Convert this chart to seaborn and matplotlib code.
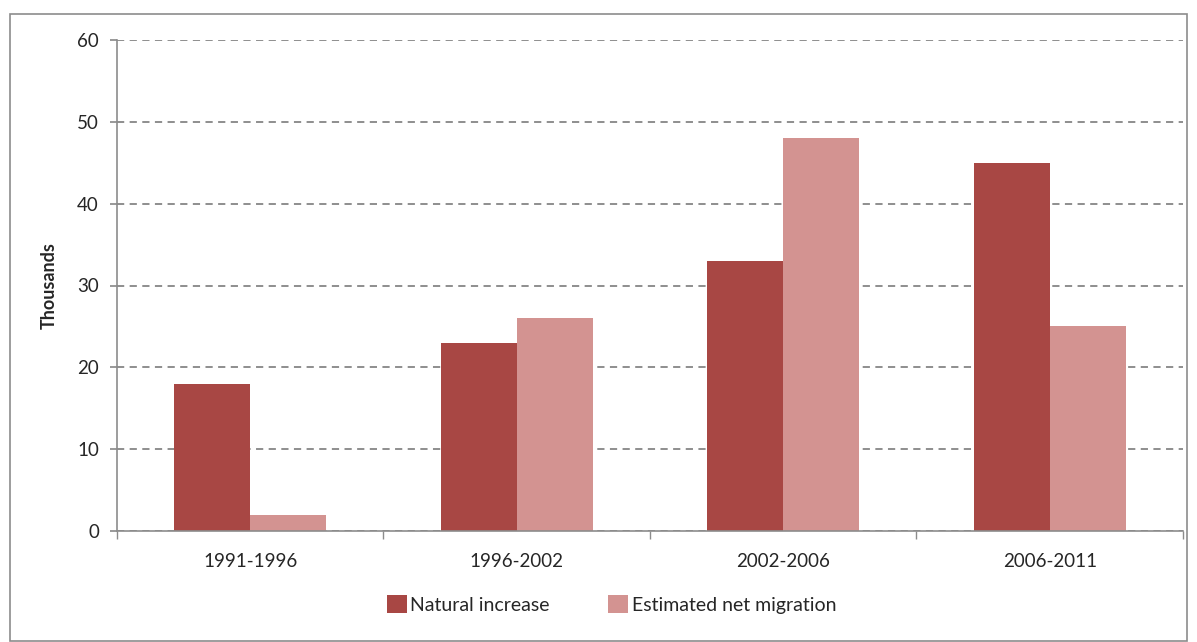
import pandas as pd
import seaborn as sns
import matplotlib.pyplot as plt
from matplotlib.patches import Rectangle

sns.set_theme(style="white")
plt.rcParams['font.family'] = ['Lato', 'DejaVu Sans']

# Data (thousands)
periods = ["1991-1996", "1996-2002", "2002-2006", "2006-2011"]
natural_increase = [18, 23, 33, 45]
net_migration = [2, 26, 48, 25]
series_names = ["Natural increase", "Estimated net migration"]
colors = ["#A84744", "#D39391"]
y_ticks = [0, 10, 20, 30, 40, 50, 60]

df = pd.DataFrame({
    "Period": periods * 2,
    "Series": [series_names[0]] * 4 + [series_names[1]] * 4,
    "Value": natural_increase + net_migration,
})

fig = plt.figure(figsize=(11.97, 6.42), dpi=100)
ax = fig.add_axes([117 / 1197, 1 - 531 / 642, (1183 - 117) / 1197, (531 - 40) / 642])

sns.barplot(data=df, x="Period", y="Value", hue="Series", palette=colors,
            width=0.57, gap=0, saturation=1, ax=ax, errorbar=None, linewidth=0)

ax.set_ylim(0, 60)
ax.set_yticks(y_ticks)
ax.set_xlim(-0.5, 3.5)
ax.yaxis.grid(True, linestyle=(0, (4, 3)), color="#868686", linewidth=1.3)
ax.set_axisbelow(True)

for side in ["top", "right"]:
    ax.spines[side].set_visible(False)
for side in ["left", "bottom"]:
    ax.spines[side].set_color("#8c8c8c")
    ax.spines[side].set_linewidth(1.2)

ax.tick_params(axis="y", left=True, length=5, color="#8c8c8c", labelsize=13.5, pad=8)
ax.tick_params(axis="x", bottom=False, labelsize=13.5, pad=10)
ax.set_xticks([-0.5, 0.5, 1.5, 2.5, 3.5], minor=True)
ax.tick_params(axis="x", which="minor", bottom=True, length=6, color="#8c8c8c", direction="out")

ax.set_xlabel("")
ax.set_ylabel("Thousands", fontsize=13, fontweight="bold", labelpad=14)

ax.legend(loc="upper center", bbox_to_anchor=(0.464, -0.095), ncol=2, frameon=False,
          fontsize=14, handlelength=1.0, handleheight=1.0, handletextpad=0.2,
          columnspacing=3.0)

fig.patches.append(Rectangle((10 / 1197, 0.002), 1177 / 1197, 1 - 14 / 642 - 0.002,
                             transform=fig.transFigure, fill=False,
                             edgecolor="#8c8c8c", linewidth=1.2))

fig.savefig("out.png", dpi=100)
